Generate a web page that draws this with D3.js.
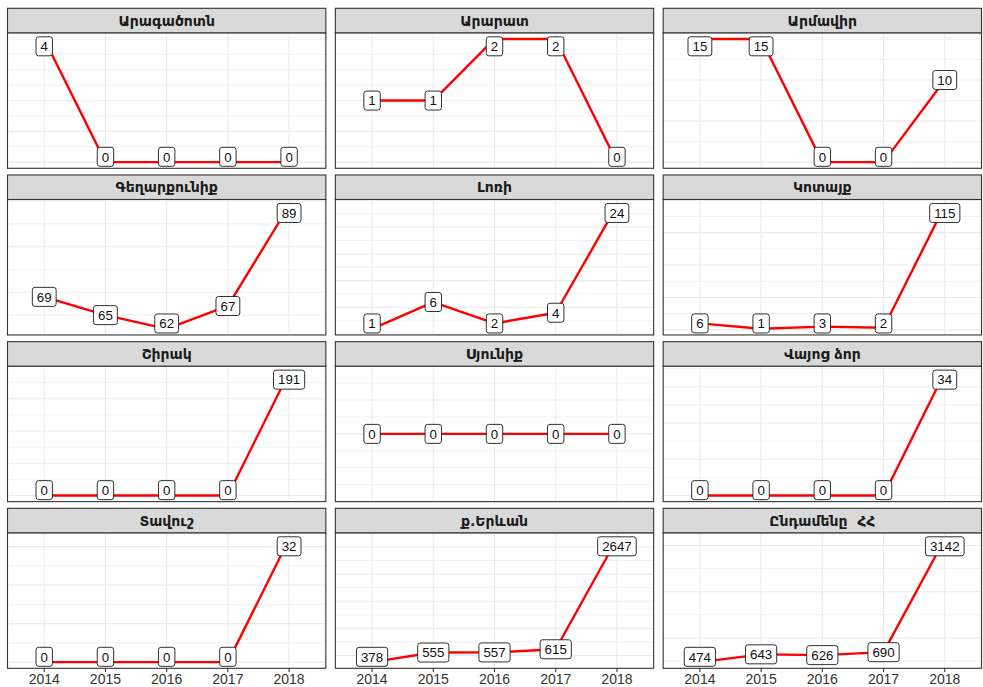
<!DOCTYPE html>
<html>
<head>
<meta charset="utf-8">
<script src="https://cdn.jsdelivr.net/npm/d3@7/dist/d3.min.js"></script>
<style>
  html, body { margin: 0; padding: 0; background: #fff; }
  svg { display: block; }
</style>
</head>
<body>
<svg id="chart" width="983" height="687"></svg>
<script>
// Years on the shared x axis
const years = ["2014", "2015", "2016", "2017", "2018"];

// Facet titles, in panel order
const regions = ["Արագածոտն", "Արարատ", "Արմավիր", "Գեղարքունիք", "Լոռի", "Կոտայք",
                 "Շիրակ", "Սյունիք", "Վայոց ձոր", "Տավուշ", "ք.Երևան", "Ընդամենը  ՀՀ"];

// Yearly counts per region
const aragatsotn   = [4, 0, 0, 0, 0];
const ararat       = [1, 1, 2, 2, 0];
const armavir      = [15, 15, 0, 0, 10];
const gegharkunik  = [69, 65, 62, 67, 89];
const lori         = [1, 6, 2, 4, 24];
const kotayk       = [6, 1, 3, 2, 115];
const shirak       = [0, 0, 0, 0, 191];
const syunik       = [0, 0, 0, 0, 0];
const vayotsDzor   = [0, 0, 0, 0, 34];
const tavush       = [0, 0, 0, 0, 32];
const yerevan      = [378, 555, 557, 615, 2647];
const total        = [474, 643, 626, 690, 3142];

const seriesList = [aragatsotn, ararat, armavir, gegharkunik, lori, kotayk,
                    shirak, syunik, vayotsDzor, tavush, yerevan, total];

// ---- layout ----
const plotLeft = 7.5, plotRight = 981.5, plotTop = 8.3, plotBottom = 668.3;
const ncol = 3, nrow = 4;
const colGap = 9.5, rowGap = 6.67;
const stripH = 24.5;
const panelW = (plotRight - plotLeft - colGap * (ncol - 1)) / ncol;
const cellH = (plotBottom - plotTop - rowGap * (nrow - 1)) / nrow;
const panelH = cellH - stripH;

const svg = d3.select("#chart");
const fontMain = "'Liberation Sans', Arial, 'DejaVu Sans', sans-serif";
const fontStrip = "'DejaVu Sans', 'Liberation Sans', sans-serif";

// Wilkinson "extended" tick search (as used by ggplot's default breaks)
function extendedBreaks(dmin, dmax, m) {
  const Q = [1, 5, 2, 2.5, 4, 3];
  const w = [0.25, 0.2, 0.5, 0.05];
  const n = Q.length;
  const eps = 2.220446e-16 * 100;
  if (dmax - dmin < eps) return [dmin];
  const mod = (a, b) => ((a % b) + b) % b;
  const simplicity = (q, j, lmin, lmax, lstep) => {
    const i = Q.indexOf(q) + 1;
    const r = mod(lmin, lstep);
    const v = ((r < eps || lstep - r < eps) && lmin <= 0 && lmax >= 0) ? 1 : 0;
    return 1 - (i - 1) / (n - 1) - j + v;
  };
  const simplicityMax = (q, j) => 1 - (Q.indexOf(q)) / (n - 1) - j + 1;
  const coverage = (lmin, lmax) => {
    const r = dmax - dmin;
    return 1 - 0.5 * ((dmax - lmax) ** 2 + (dmin - lmin) ** 2) / ((0.1 * r) ** 2);
  };
  const coverageMax = span => {
    const r = dmax - dmin;
    if (span > r) { const half = (span - r) / 2; return 1 - 0.5 * (2 * half * half) / ((0.1 * r) ** 2); }
    return 1;
  };
  const density = (k, lmin, lmax) => {
    const r = (k - 1) / (lmax - lmin);
    const rt = (m - 1) / (Math.max(lmax, dmax) - Math.min(dmin, lmin));
    return 2 - Math.max(r / rt, rt / r);
  };
  const densityMax = k => k >= m ? 2 - (k - 1) / (m - 1) : 1;

  let best = null, bestScore = -2;
  let j = 1;
  while (j < Infinity) {
    for (const q of Q) {
      const sm = simplicityMax(q, j);
      if (w[0] * sm + w[1] + w[2] + w[3] < bestScore) { j = Infinity; break; }
      let k = 2;
      while (k < Infinity) {
        const dm = densityMax(k);
        if (w[0] * sm + w[1] + w[2] * dm + w[3] < bestScore) break;
        const delta = (dmax - dmin) / (k + 1) / j / q;
        let z = Math.ceil(Math.log10(delta));
        while (z < Infinity) {
          const step = j * q * Math.pow(10, z);
          const cm = coverageMax(step * (k - 1));
          if (w[0] * sm + w[1] * cm + w[2] * dm + w[3] < bestScore) break;
          const minStart = Math.floor(dmax / step) * j - (k - 1) * j;
          const maxStart = Math.ceil(dmin / step) * j;
          if (minStart > maxStart) { z++; continue; }
          for (let start = minStart; start <= maxStart; start++) {
            const lmin = start * (step / j);
            const lmax = lmin + step * (k - 1);
            const score = w[0] * simplicity(q, j, lmin, lmax, step) + w[1] * coverage(lmin, lmax)
                        + w[2] * density(k, lmin, lmax) + w[3];
            if (score > bestScore) { bestScore = score; best = [lmin, lmax, step]; }
          }
          z++;
        }
        k++;
      }
    }
    j++;
  }
  const out = [];
  for (let v = best[0]; v <= best[1] + best[2] * 1e-9; v += best[2]) out.push(+v.toFixed(10));
  return out;
}

// minor breaks halfway between majors, limited to the visible range
function minorBreaks(major, lo, hi) {
  if (major.length < 2) return [];
  const step = major[1] - major[0];
  const b = [major[0] - step, ...major, major[major.length - 1] + step];
  const out = [];
  for (let i = 0; i < b.length - 1; i++) {
    const mid = (b[i] + b[i + 1]) / 2;
    if (mid >= lo && mid <= hi) out.push(mid);
  }
  return out;
}

regions.forEach((name, idx) => {
  const values = seriesList[idx];
  const col = idx % ncol, row = Math.floor(idx / ncol);
  const px = plotLeft + col * (panelW + colGap);
  const sy = plotTop + row * (cellH + rowGap);
  const py = sy + stripH;

  const g = svg.append("g");

  // scales
  const x = d3.scalePoint().domain(years).range([px, px + panelW]).padding(0.6);
  const vmin = d3.min(values), vmax = d3.max(values);
  let lo, hi, major;
  if (vmax - vmin === 0) {
    lo = vmin - 0.5; hi = vmax + 0.5;
    major = extendedBreaks(lo, hi, 5);
  } else {
    const pad = (vmax - vmin) * 0.05;
    lo = vmin - pad; hi = vmax + pad;
    major = extendedBreaks(vmin, vmax, 5);
  }
  const minor = minorBreaks(major, lo, hi);
  major = major.filter(v => v >= lo && v <= hi);
  const y = d3.scaleLinear().domain([lo, hi]).range([py + panelH, py]);

  // panel background
  g.append("rect").attr("x", px).attr("y", py).attr("width", panelW).attr("height", panelH)
    .attr("fill", "#fff");

  // grid
  g.selectAll(".minor").data(minor).join("line")
    .attr("x1", px).attr("x2", px + panelW)
    .attr("y1", d => y(d)).attr("y2", d => y(d))
    .attr("stroke", "#ebebeb").attr("stroke-width", 0.7);
  g.selectAll(".majorY").data(major).join("line")
    .attr("x1", px).attr("x2", px + panelW)
    .attr("y1", d => y(d)).attr("y2", d => y(d))
    .attr("stroke", "#ebebeb").attr("stroke-width", 1.1);
  g.selectAll(".majorX").data(years).join("line")
    .attr("x1", d => x(d)).attr("x2", d => x(d))
    .attr("y1", py).attr("y2", py + panelH)
    .attr("stroke", "#ebebeb").attr("stroke-width", 1.1);

  // line
  const pts = years.map((yr, i) => ({ yr, v: values[i] }));
  g.append("path").datum(pts)
    .attr("d", d3.line().x(d => x(d.yr)).y(d => y(d.v)))
    .attr("fill", "none").attr("stroke", "#ff0000").attr("stroke-width", 2.4)
    .attr("stroke-linejoin", "round");

  // value labels, kept inside the panel
  const labH = 19;
  const lab = g.selectAll(".lab").data(pts).join("g");
  lab.each(function (d) {
    const gg = d3.select(this);
    const t = gg.append("text").text(d.v)
      .attr("font-family", fontMain).attr("font-size", 13.3).attr("fill", "#111")
      .attr("text-anchor", "middle");
    const tw = t.node().getComputedTextLength();
    const bw = tw + 9;
    let cy = y(d.v);
    cy = Math.max(cy, py + 4 + labH / 2);
    cy = Math.min(cy, py + panelH - 2 - labH / 2);
    const cx = x(d.yr);
    gg.insert("rect", "text")
      .attr("x", cx - bw / 2).attr("y", cy - labH / 2)
      .attr("width", bw).attr("height", labH)
      .attr("rx", 2.5).attr("ry", 2.5)
      .attr("fill", "#fff").attr("stroke", "#1a1a1a").attr("stroke-width", 0.9);
    t.attr("x", cx).attr("y", cy + 4.8);
  });

  // panel border
  g.append("rect").attr("x", px).attr("y", py).attr("width", panelW).attr("height", panelH)
    .attr("fill", "none").attr("stroke", "#333").attr("stroke-width", 1.1);

  // strip
  g.append("rect").attr("x", px).attr("y", sy).attr("width", panelW).attr("height", stripH)
    .attr("fill", "#d9d9d9").attr("stroke", "#333").attr("stroke-width", 1.1);
  g.append("text").text(name)
    .attr("x", px + panelW / 2).attr("y", sy + stripH / 2 + 5)
    .attr("text-anchor", "middle")
    .style("white-space", "pre")
    .attr("font-family", fontStrip).attr("font-size", 14).attr("font-weight", "bold")
    .attr("fill", "#1a1a1a");

  // x axis on the bottom row
  if (row === nrow - 1) {
    g.selectAll(".tick").data(years).join("line")
      .attr("x1", d => x(d)).attr("x2", d => x(d))
      .attr("y1", py + panelH).attr("y2", py + panelH + 3.7)
      .attr("stroke", "#333").attr("stroke-width", 1.1);
    g.selectAll(".tickLab").data(years).join("text")
      .text(d => d)
      .attr("x", d => x(d)).attr("y", 684)
      .attr("text-anchor", "middle")
      .attr("font-family", fontMain).attr("font-size", 14)
      .attr("fill", "#333");
  }
});
</script>
</body>
</html>
